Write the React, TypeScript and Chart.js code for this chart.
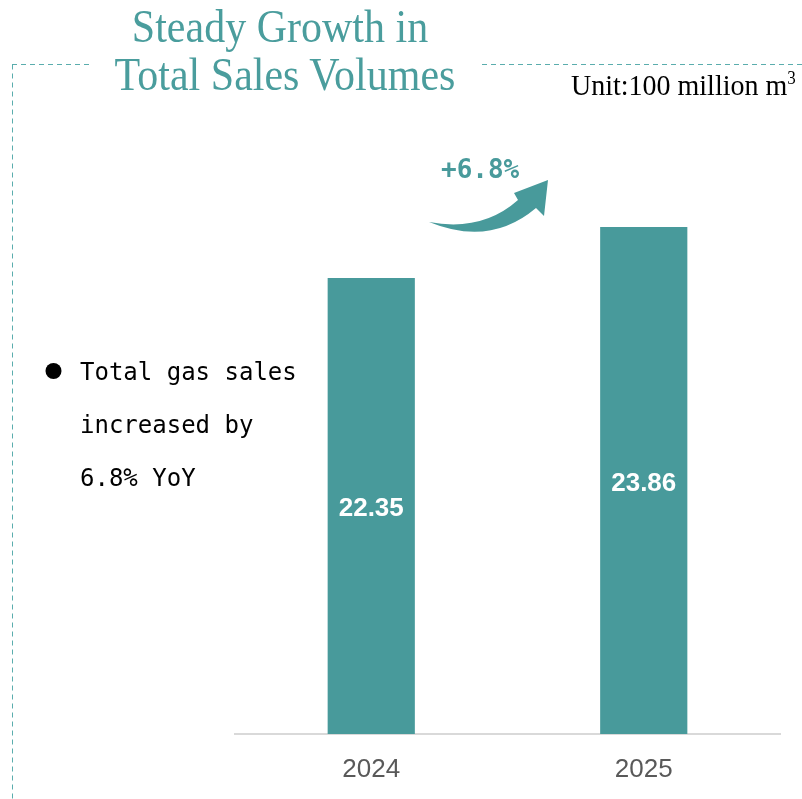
import React, { useEffect, useRef } from "react";
import { Chart, registerables } from "chart.js";

Chart.register(...registerables);

// ---- data ----
const categories = ["2024", "2025"];
const salesVolumes = [22.35, 23.86];
const yMin = 8.85;
const yMax = 27.62;

// ---- texts ----
const titleLines = ["Steady Growth in", "Total Sales Volumes"];
const unitText = "Unit:100 million m";
const growthLabel = "+6.8%";
const bulletLines = ["Total gas sales", "increased by", "6.8% YoY"];

const TEAL = "#489a9b";
const TITLE_TEAL = "#4a9d9d";

const decorPlugin = {
  id: "decor",
  beforeDraw(chart: any) {
    const ctx = chart.ctx;
    ctx.save();
    // dashed frame
    ctx.strokeStyle = "#5aadad";
    ctx.lineWidth = 1;
    ctx.setLineDash([5, 4]);
    ctx.beginPath();
    ctx.moveTo(12, 64.5);
    ctx.lineTo(92, 64.5);
    ctx.moveTo(482, 64.5);
    ctx.lineTo(802, 64.5);
    ctx.moveTo(12.5, 64.5);
    ctx.lineTo(12.5, 799);
    ctx.stroke();
    ctx.setLineDash([]);

    // growth arrow
    ctx.fillStyle = TEAL;
    ctx.beginPath();
    ctx.moveTo(429, 222);
    ctx.quadraticCurveTo(482, 232, 518, 200);
    ctx.lineTo(514, 193);
    ctx.lineTo(548, 180);
    ctx.lineTo(544, 216);
    ctx.lineTo(536, 208);
    ctx.quadraticCurveTo(490, 247, 429, 222);
    ctx.closePath();
    ctx.fill();

    // bullet
    ctx.fillStyle = "#000";
    ctx.beginPath();
    ctx.arc(53.5, 371, 8, 0, Math.PI * 2);
    ctx.fill();
    ctx.restore();
  },
  afterDatasetsDraw(chart: any) {
    const ctx = chart.ctx;
    const meta = chart.getDatasetMeta(0);
    const bottom = chart.chartArea.bottom;
    ctx.save();
    ctx.fillStyle = "#ffffff";
    ctx.font = "bold 26px 'Liberation Sans', Arial, sans-serif";
    ctx.textAlign = "center";
    ctx.textBaseline = "middle";
    meta.data.forEach((bar: any, i: number) => {
      const v = chart.data.datasets[0].data[i];
      const base = Math.min(bar.base, bottom);
      const cy = (bar.y + base) / 2 + 3;
      ctx.fillText(Number(v).toFixed(2), bar.x, cy);
    });
    ctx.restore();
  },
};

export default function App() {
  const canvasRef = useRef<HTMLCanvasElement | null>(null);

  useEffect(() => {
    document.body.style.margin = "0";
    const canvas = canvasRef.current;
    if (!canvas) return;
    const chart = new Chart(canvas, {
      type: "bar",
      data: {
        labels: categories,
        datasets: [
          {
            data: salesVolumes,
            backgroundColor: TEAL,
            borderWidth: 0,
            categoryPercentage: 1,
            barPercentage: 0.32,
          },
        ],
      },
      options: {
        animation: false,
        responsive: false,
        maintainAspectRatio: false,
        devicePixelRatio: 1,
        layout: { padding: { left: 235, right: 22, top: 100, bottom: 0 } },
        plugins: {
          legend: { display: false },
          tooltip: { enabled: false },
          title: { display: false },
        },
        scales: {
          x: {
            grid: { display: false },
            border: { display: true, color: "#d9d9d9", width: 2 },
            ticks: {
              color: "#595959",
              padding: 12,
              font: { family: "'Liberation Sans', Arial, sans-serif", size: 26 },
            },
            afterFit: (scale: any) => {
              scale.height = 65;
            },
          },
          y: {
            display: false,
            min: yMin,
            max: yMax,
          },
        },
      },
      plugins: [decorPlugin],
    });
    return () => chart.destroy();
  }, []);

  const serif = "'Liberation Serif', 'Times New Roman', serif";
  const mono = "'DejaVu Sans Mono', 'Liberation Mono', monospace";

  return (
    <div style={{ position: "relative", width: 802, height: 799, overflow: "hidden", background: "#fff" }}>
      <canvas ref={canvasRef} width={802} height={799} style={{ position: "absolute", left: 0, top: 0, width: 802, height: 799 }} />
      {titleLines.map((t, i) => (
        <div
          key={t}
          style={{
            position: "absolute",
            left: (i === 0 ? 280 : 285) - 300,
            width: 600,
            top: i === 0 ? 7 : 55,
            textAlign: "center",
            fontFamily: serif,
            fontSize: 42,
            lineHeight: "42px",
            color: TITLE_TEAL,
            whiteSpace: "nowrap",
            transform: "scaleY(1.1)",
            transformOrigin: "50% 85%",
          }}
        >
          {t}
        </div>
      ))}
      <div
        style={{
          position: "absolute",
          left: 571,
          top: 72,
          fontFamily: serif,
          fontSize: 28,
          lineHeight: "28px",
          color: "#000",
          whiteSpace: "nowrap",
          transform: "scaleY(1.05)",
          transformOrigin: "0 85%",
        }}
      >
        {unitText}
        <sup style={{ fontSize: 17, lineHeight: 0 }}>3</sup>
      </div>
      <div
        style={{
          position: "absolute",
          left: 441,
          top: 156,
          fontFamily: mono,
          fontWeight: "bold",
          fontSize: 26,
          lineHeight: "26px",
          color: TEAL,
          whiteSpace: "nowrap",
        }}
      >
        {growthLabel}
      </div>
      {bulletLines.map((t, i) => (
        <div
          key={t}
          style={{
            position: "absolute",
            left: 80,
            top: 360 + i * 53,
            fontFamily: mono,
            fontSize: 24,
            lineHeight: "24px",
            color: "#000",
            whiteSpace: "nowrap",
          }}
        >
          {t}
        </div>
      ))}
    </div>
  );
}
